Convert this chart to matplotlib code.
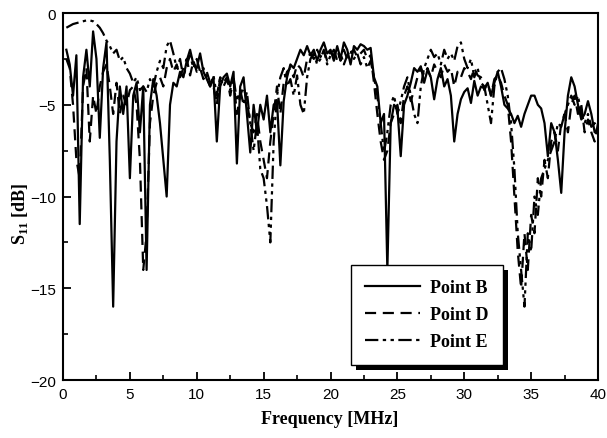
import numpy as np
import matplotlib
matplotlib.use("Agg")
import matplotlib.pyplot as plt
from matplotlib.patches import Rectangle
from matplotlib.ticker import MultipleLocator

plt.rcParams['mathtext.fontset'] = 'custom'
plt.rcParams['mathtext.rm'] = 'Liberation Serif:bold'
plt.rcParams['mathtext.bf'] = 'Liberation Serif:bold'

freq = [0.25 * (i + 1) for i in range(160)]

point_b = [
    -2.0, -2.8, -4.5, -2.3,
    -11.5, -3.5, -2.0, -4.0,
    -1.0, -2.5, -6.8, -3.0,
    -1.6, -8.0, -16.0, -7.0,
    -4.0, -5.5, -4.0, -9.0,
    -4.5, -3.8, -6.5, -4.0,
    -14.0, -5.0, -3.6, -4.5,
    -6.0, -8.0, -10.0, -5.0,
    -3.8, -4.0, -3.2, -3.5,
    -2.6, -2.0, -2.8, -3.0,
    -2.2, -3.2, -3.6, -4.0,
    -3.5, -7.0, -4.0, -3.5,
    -3.3, -4.0, -3.2, -8.2,
    -4.0, -3.5, -5.5, -7.6,
    -5.0, -6.5, -5.0, -5.8,
    -4.5, -6.5, -5.0, -4.8,
    -8.3, -4.8, -3.5, -2.8,
    -3.0, -2.5, -2.0, -2.3,
    -1.8, -2.3, -2.0, -2.6,
    -2.0, -1.6, -2.2, -2.0,
    -2.6, -1.8, -2.5, -1.6,
    -2.0, -2.8, -1.8, -2.0,
    -1.7, -1.8, -2.0, -1.9,
    -3.5, -4.0, -6.0, -5.5,
    -14.0, -6.0, -5.0, -5.2,
    -7.8, -5.0, -4.5, -3.8,
    -3.0, -3.2, -2.9, -3.8,
    -3.1, -3.5, -4.7, -3.6,
    -3.0, -4.0, -3.6, -4.5,
    -7.0, -5.5, -4.7, -4.3,
    -4.1, -4.9, -3.7, -4.5,
    -4.0, -4.1, -3.8, -4.5,
    -3.8, -3.2, -4.0, -5.0,
    -5.2, -5.5, -6.0, -5.6,
    -6.2, -5.5, -5.0, -4.5,
    -4.5, -5.0, -5.2, -6.0,
    -7.8, -6.0, -6.5, -8.0,
    -9.8, -6.5, -4.5, -3.5,
    -4.0, -5.0, -5.8, -5.5,
    -4.8, -5.5, -6.5, -6.3,
]

point_d = [
    -2.5, -3.0, -5.0, -8.0,
    -9.0, -4.0, -3.0, -7.0,
    -4.5, -5.5, -4.0, -3.2,
    -2.8, -4.0, -5.5, -3.8,
    -5.5, -4.5, -5.0, -4.2,
    -4.0, -5.0, -8.0, -14.0,
    -12.0, -6.0, -4.5, -3.8,
    -3.5, -4.0, -3.0, -2.5,
    -3.2, -2.8, -3.5, -3.0,
    -2.5, -3.4, -2.6, -3.2,
    -3.0, -3.6, -3.2, -3.8,
    -4.0, -5.0, -3.5, -3.8,
    -3.5, -4.5, -3.6, -5.5,
    -4.5, -4.0, -4.8, -6.0,
    -6.5, -5.5, -7.0, -8.0,
    -9.0, -7.0, -5.5, -4.0,
    -5.5, -3.8, -3.2, -3.0,
    -3.5, -2.8, -3.0, -3.5,
    -2.5, -2.2, -2.5, -2.0,
    -2.4, -2.0, -2.6, -2.1,
    -2.3, -2.0, -2.6, -2.0,
    -2.5, -2.2, -2.0, -2.4,
    -2.2, -2.0, -2.5, -2.3,
    -3.8, -5.5, -7.0, -8.0,
    -7.5, -6.0, -5.5, -5.0,
    -6.0, -4.5, -4.0, -4.8,
    -4.2, -3.5, -3.0, -3.4,
    -3.0, -3.5, -2.8, -3.2,
    -3.5, -2.8, -3.2, -3.0,
    -4.0, -3.2, -3.5, -3.0,
    -3.2, -3.6, -3.0, -3.4,
    -3.5, -4.2, -3.8, -4.5,
    -3.6, -3.4, -3.8, -4.5,
    -5.0, -7.0, -10.0, -13.0,
    -15.0, -12.0, -14.0, -11.0,
    -12.0, -9.0, -10.0, -8.0,
    -9.0, -7.0, -6.5, -7.5,
    -6.0, -5.5, -6.5, -5.0,
    -4.5, -5.5, -5.0, -6.5,
    -5.8, -6.5, -7.0, -6.0,
]

point_e = [
    -0.8, -0.7, -0.6, -0.55,
    -0.5, -0.45, -0.4, -0.4,
    -0.45, -0.6, -0.8, -1.1,
    -1.5, -1.8, -2.2, -2.0,
    -2.6, -2.4, -3.0, -3.3,
    -3.8, -3.5, -4.2, -4.0,
    -4.3, -3.6, -4.0, -3.2,
    -2.6, -3.0, -1.8, -1.5,
    -2.2, -3.0, -2.5, -3.5,
    -2.8, -2.3, -3.0, -2.5,
    -3.2, -3.0, -3.5, -4.0,
    -3.4, -4.5, -3.5, -4.0,
    -3.6, -4.2, -3.5, -4.8,
    -4.2, -5.0, -4.3, -6.0,
    -7.5, -6.0, -8.5, -9.0,
    -10.5, -12.5, -7.0, -4.5,
    -3.5, -3.0, -4.0, -3.6,
    -4.5, -3.4, -5.0, -5.5,
    -3.5, -2.5, -2.2, -2.8,
    -2.5, -2.0, -2.8, -2.3,
    -2.0, -2.6, -2.2, -2.8,
    -2.3, -2.0, -2.5, -2.2,
    -2.8, -2.4, -3.0, -2.6,
    -3.5, -4.5, -6.0, -7.6,
    -6.5, -5.0, -4.5, -5.5,
    -4.8, -4.0, -3.5, -4.5,
    -5.5, -6.0, -4.0, -3.0,
    -2.5, -2.0, -2.4, -2.2,
    -2.8, -2.0, -2.5, -2.2,
    -2.6, -1.8, -1.6, -2.5,
    -3.0, -2.5, -3.5, -3.0,
    -3.8, -4.0, -5.0, -6.0,
    -4.0, -3.2, -3.0, -3.6,
    -4.5, -6.0, -8.5, -12.0,
    -14.0, -16.0, -12.0, -13.0,
    -10.0, -11.0, -9.0, -8.5,
    -8.0, -7.5, -7.0, -6.0,
    -6.2, -5.5, -5.0, -4.5,
    -5.0, -4.5, -5.5, -6.0,
    -5.5, -6.2, -6.0, -6.5,
]

series_labels = ["Point B", "Point D", "Point E"]
x_ticks = [0, 5, 10, 15, 20, 25, 30, 35, 40]
y_ticks = [0, -5, -10, -15, -20]

fig = plt.figure(figsize=(6.07, 4.39), dpi=100)
ax = fig.add_axes([0.1038, 0.132, 0.8814, 0.836])

lw = 1.6
l1, = ax.plot(freq, point_b, color='black', lw=lw, ls='-', label=series_labels[0])
l2, = ax.plot(freq, point_d, color='black', lw=lw, ls=(0, (5, 3)), label=series_labels[1])
l3, = ax.plot(freq, point_e, color='black', lw=lw, ls=(0, (6, 2, 1.5, 2, 1.5, 2)), label=series_labels[2])

ax.set_xlim(0, 40)
ax.set_ylim(-20, 0)
ax.set_xticks(x_ticks)
ax.set_yticks(y_ticks)
ax.xaxis.set_minor_locator(MultipleLocator(2.5))
ax.yaxis.set_minor_locator(MultipleLocator(2.5))
ax.tick_params(which='major', direction='in', length=6, width=1.3,
               labelsize=11, pad=5)
ax.tick_params(which='minor', direction='in', length=3.5, width=1.2)
for lab in ax.get_xticklabels() + ax.get_yticklabels():
    lab.set_family('Liberation Sans')
for sp in ax.spines.values():
    sp.set_linewidth(1.5)

ax.set_xlabel('Frequency [MHz]', family='Liberation Serif', fontweight='bold',
              fontsize=13)
ax.set_ylabel(r'S$_{\mathrm{11}}$ [dB]', family='Liberation Serif', fontweight='bold',
              fontsize=13)
ax.xaxis.set_label_coords(0.499, -0.106)
ax.yaxis.set_label_coords(-0.080, 0.455)
ax.xaxis.label.set_verticalalignment('center')
ax.yaxis.label.set_verticalalignment('center')

leg = ax.legend(handles=[l1, l2, l3], loc='lower left',
                bbox_to_anchor=(0.528, 0.027), frameon=True, fancybox=False,
                edgecolor='black', framealpha=1, handlelength=3.0,
                handletextpad=0.6, labelspacing=0.55, borderpad=0.8,
                borderaxespad=0.3,
                prop={'family': 'Liberation Serif', 'weight': 'bold', 'size': 13})
leg.get_frame().set_linewidth(1.0)
leg.set_zorder(10)

fig.canvas.draw()
bb = leg.get_window_extent().transformed(ax.transAxes.inverted())
off_x = 5 / (0.8814 * 607)
off_y = 5 / (0.836 * 439)
shadow = Rectangle((bb.x0 + off_x, bb.y0 - off_y), bb.width, bb.height,
                   transform=ax.transAxes, facecolor='black', edgecolor='none',
                   zorder=9, clip_on=False)
ax.add_patch(shadow)

fig.savefig('out.png', dpi=100)
